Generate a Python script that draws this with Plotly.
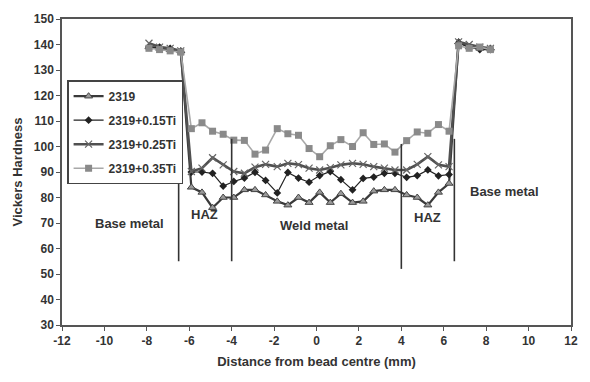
import plotly.graph_objects as go

# ---- data ----
x_base_left = [-7.9, -7.4, -6.9, -6.4]
x_weld = [-5.9, -5.4, -4.9, -4.4, -3.9, -3.4, -2.9, -2.4, -1.85, -1.35, -0.85, -0.35,
          0.15, 0.65, 1.15, 1.7, 2.2, 2.7, 3.2, 3.7, 4.25, 4.75, 5.25, 5.75, 6.25]
x_base_right = [6.7, 7.2, 7.7, 8.2]

s2319_left = [139, 138.5, 138, 137.5]
s2319_weld = [84, 82, 76, 80, 80, 83, 83, 81, 78.5, 77, 80, 78,
              82, 78, 81.5, 78, 78.5, 82.5, 83, 83, 81, 80, 77, 82, 85.5]
s2319_right = [141, 139, 138.5, 138.5]

s015_left = [139, 139, 138.5, 137]
s015_weld = [90, 90, 89.5, 84.5, 86.3, 87.6, 89.9, 86.7, 81.8, 89.8, 87.6, 86,
             88.6, 90.2, 87, 83, 87.5, 88, 89.5, 89.5, 87.9, 88.6, 90.8, 88.5, 89]
s015_right = [140.5, 139, 138, 138]

s025_left = [140.5, 139, 138.5, 137.5]
s025_weld = [90.2, 91.5, 95.6, 92.8, 90.2, 89.5, 91.9, 93, 92.1, 93.4, 92.9, 91.5,
             90.8, 91.7, 92.8, 93.4, 93, 92.1, 91.5, 90.8, 90.8, 93, 96, 92.8, 92.1]
s025_right = [141, 140, 139, 138.5]

s035_left = [138.5, 138, 137.5, 137]
s035_weld = [107, 109.3, 106, 104.8, 102.5, 102.4, 97, 98.6, 107, 105, 104.4, 99.2,
             96, 100.3, 102.7, 100, 105.4, 100.8, 101, 97.8, 102.3, 105.7, 105.2, 108.6, 106]
s035_right = [139.5, 138.5, 139, 138]

series_names = ["2319", "2319+0.15Ti", "2319+0.25Ti", "2319+0.35Ti"]

zone_x = [-6.5, -4, 4, 6.5]
zone_y0 = [55, 55, 52, 55]
zone_y1 = [103, 103, 101, 103]

label_text = ["Base metal", "HAZ", "Weld metal", "HAZ", "Base metal"]
label_x = [-8.8, -5.3, -0.1, 5.23, 8.85]
label_y = [70, 73.5, 69.2, 72.3, 82.4]

x_ticks = [-12, -10, -8, -6, -4, -2, 0, 2, 4, 6, 8, 10, 12]
y_ticks = [30, 40, 50, 60, 70, 80, 90, 100, 110, 120, 130, 140, 150]

# ---- figure ----
xs = x_base_left + x_weld + x_base_right
ys_all = [
    s2319_left + s2319_weld + s2319_right,
    s015_left + s015_weld + s015_right,
    s025_left + s025_weld + s025_right,
    s035_left + s035_weld + s035_right,
]
styles = [
    dict(line=dict(color="#3a3a3a", width=2.2),
         marker=dict(symbol="triangle-up", size=7, color="#9a9a9a",
                     line=dict(color="#444", width=1))),
    dict(line=dict(color="#222", width=1.2),
         marker=dict(symbol="diamond", size=6, color="#222")),
    dict(line=dict(color="#505050", width=2.6),
         marker=dict(symbol="x-thin", size=7, color="#666",
                     line=dict(color="#666", width=1.2))),
    dict(line=dict(color="#a8a8a8", width=1.6),
         marker=dict(symbol="square", size=7, color="#8a8a8a")),
]

FONT = "Arial, Liberation Sans, sans-serif"

fig = go.Figure()
for i, (name, ys) in enumerate(zip(series_names, ys_all)):
    fig.add_trace(go.Scatter(x=xs, y=ys, mode="lines+markers", name="<b>%s</b>" % name,
                             legendgroup=name, **styles[i]))

for zx, y0, y1 in zip(zone_x, zone_y0, zone_y1):
    fig.add_shape(type="line", x0=zx, x1=zx, y0=y0, y1=y1, xref="x", yref="y",
                  line=dict(color="#333", width=1.6))

for t, lx, ly in zip(label_text, label_x, label_y):
    fig.add_annotation(x=lx, y=ly, text="<b>%s</b>" % t, showarrow=False,
                       font=dict(family=FONT, size=13, color="#333"))

axis_common = dict(showgrid=False, zeroline=False, showline=True, mirror=True,
                   linecolor="#555", linewidth=1.5, ticks="outside", ticklen=4,
                   tickcolor="#555", tickwidth=1.2,
                   tickfont=dict(family=FONT, size=12, color="#333"))

fig.update_xaxes(range=[-12, 12], tickvals=x_ticks,
                 ticktext=["<b>%d</b>" % v for v in x_ticks],
                 title=dict(text="<b>Distance from bead centre (mm)</b>", standoff=10,
                            font=dict(family=FONT, size=13, color="#333")),
                 **axis_common)
fig.update_yaxes(range=[30, 150], tickvals=y_ticks,
                 ticktext=["<b>%d</b>" % v for v in y_ticks],
                 title=dict(text="<b>Vickers Hardness</b>", standoff=8,
                            font=dict(family=FONT, size=13, color="#333")),
                 **axis_common)

fig.update_layout(
    width=590, height=382,
    margin=dict(l=62, r=15, t=16, b=57),
    plot_bgcolor="white", paper_bgcolor="white",
    showlegend=True,
    legend=dict(x=0.01, y=0.8, xanchor="left", yanchor="top",
                bgcolor="white", bordercolor="#444", borderwidth=1.5,
                tracegroupgap=5, itemwidth=30,
                font=dict(family=FONT, size=12, color="#333")),
)

fig.write_html("out.html", config={"displayModeBar": False},
               post_script="document.body.style.margin='0';")
